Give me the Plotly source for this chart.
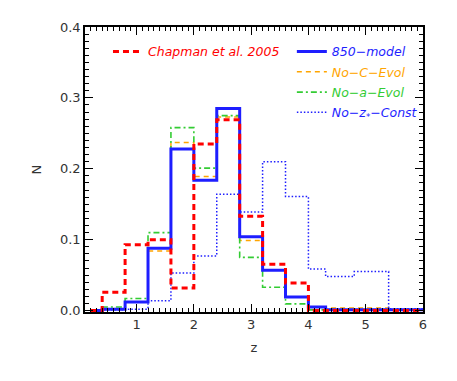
import plotly.graph_objects as go

# step edges in z (IDL psym=10 style histogram)
z_edges = [0.2, 0.4, 0.8, 1.2, 1.6, 2.0, 2.4, 2.8, 3.2, 3.6, 4.0, 4.3, 4.8, 5.4, 6.0]

chapman = [0.0, 0.026, 0.093, 0.100, 0.032, 0.235, 0.269, 0.133, 0.0655, 0.039, 0.0, 0.0, 0.0, 0.0]
model_850 = [0.0, 0.002, 0.012, 0.088, 0.228, 0.184, 0.285, 0.104, 0.057, 0.019, 0.005, 0.001, 0.001, 0.001]
no_c_evol = [0.0, 0.002, 0.012, 0.084, 0.237, 0.189, 0.273, 0.099, 0.057, 0.019, 0.005, 0.0035, 0.0035, 0.001]
no_a_evol = [0.001, 0.005, 0.017, 0.110, 0.258, 0.201, 0.275, 0.075, 0.033, 0.0095, 0.001, 0.001, 0.001, 0.001]
no_zs_const = [0.0, 0.001, 0.002, 0.014, 0.053, 0.077, 0.164, 0.139, 0.210, 0.161, 0.0585, 0.048, 0.055, 0.0025]

RED, BLUE, ORANGE, GREEN = "#ff0000", "#1e1eff", "#ffa500", "#33cc33"

series = [
    # name, values, color, dash, width, legend
    ("Chapman et al. 2005", chapman, RED, "6px,4px", 3, "legend"),
    ("850−model", model_850, BLUE, "solid", 3, "legend2"),
    ("No−C−Evol", no_c_evol, ORANGE, "5px,4px", 1.5, "legend2"),
    ("No−a−Evol", no_a_evol, GREEN, "6px,3px,2px,3px", 1.6, "legend2"),
    ("No−z<sub>*</sub>−Const", no_zs_const, BLUE, "1.5px,2px", 1.5, "legend2"),
]

fig = go.Figure()
# draw order: thin model curves first, then blue model, then red data on top
order = [2, 3, 4, 1, 0]
for i in order:
    name, vals, col, dash, w, leg = series[i]
    fig.add_trace(go.Scatter(
        x=z_edges, y=vals + [vals[-1]], mode="lines", line_shape="hv",
        line=dict(color=col, dash=dash, width=w),
        name=f"<i><span style='color:{col}'>{name}</span></i>",
        legend=leg, legendrank=i, legendgroup=f"g{i}", showlegend=True))

axis_common = dict(
    showline=True, linecolor="black", linewidth=1.5, mirror="allticks",
    ticks="inside", ticklen=8, tickwidth=1, tickcolor="black",
    showgrid=False, zeroline=False, automargin=False,
    tickfont=dict(family="DejaVu Sans", size=13, color="#333333"),
    title_font=dict(family="DejaVu Sans", size=13, color="#333333"),
)

fig.update_xaxes(range=[0.1, 6.0], dtick=1, tick0=0, title_text="z", title_standoff=12,
                 minor=dict(ticks="inside", ticklen=4, dtick=0.1, tickcolor="black"),
                 **axis_common)
fig.update_yaxes(range=[-0.002, 0.4], dtick=0.1, tick0=0, tickformat=".1f",
                 title_text="N", title_standoff=15,
                 minor=dict(ticks="inside", ticklen=4, dtick=0.01, tickcolor="black"),
                 **axis_common)

leg_font = dict(family="DejaVu Sans", size=12.5)
# page body adds an 8px offset, so the figure is drawn 8px smaller
fig.update_layout(
    width=449, height=373,
    margin=dict(l=77, r=34, t=19, b=69),
    plot_bgcolor="white", paper_bgcolor="white",
    showlegend=True,
    legend=dict(x=0.068, y=0.965, xanchor="left", yanchor="top", visible=True,
                bgcolor="rgba(0,0,0,0)", font=leg_font, itemwidth=30,
                tracegroupgap=0, traceorder="grouped"),
    legend2=dict(x=0.612, y=0.965, xanchor="left", yanchor="top", visible=True,
                 bgcolor="rgba(0,0,0,0)", font=leg_font, itemwidth=30,
                 tracegroupgap=1, traceorder="grouped"),
)

fig.write_html("out.html")
